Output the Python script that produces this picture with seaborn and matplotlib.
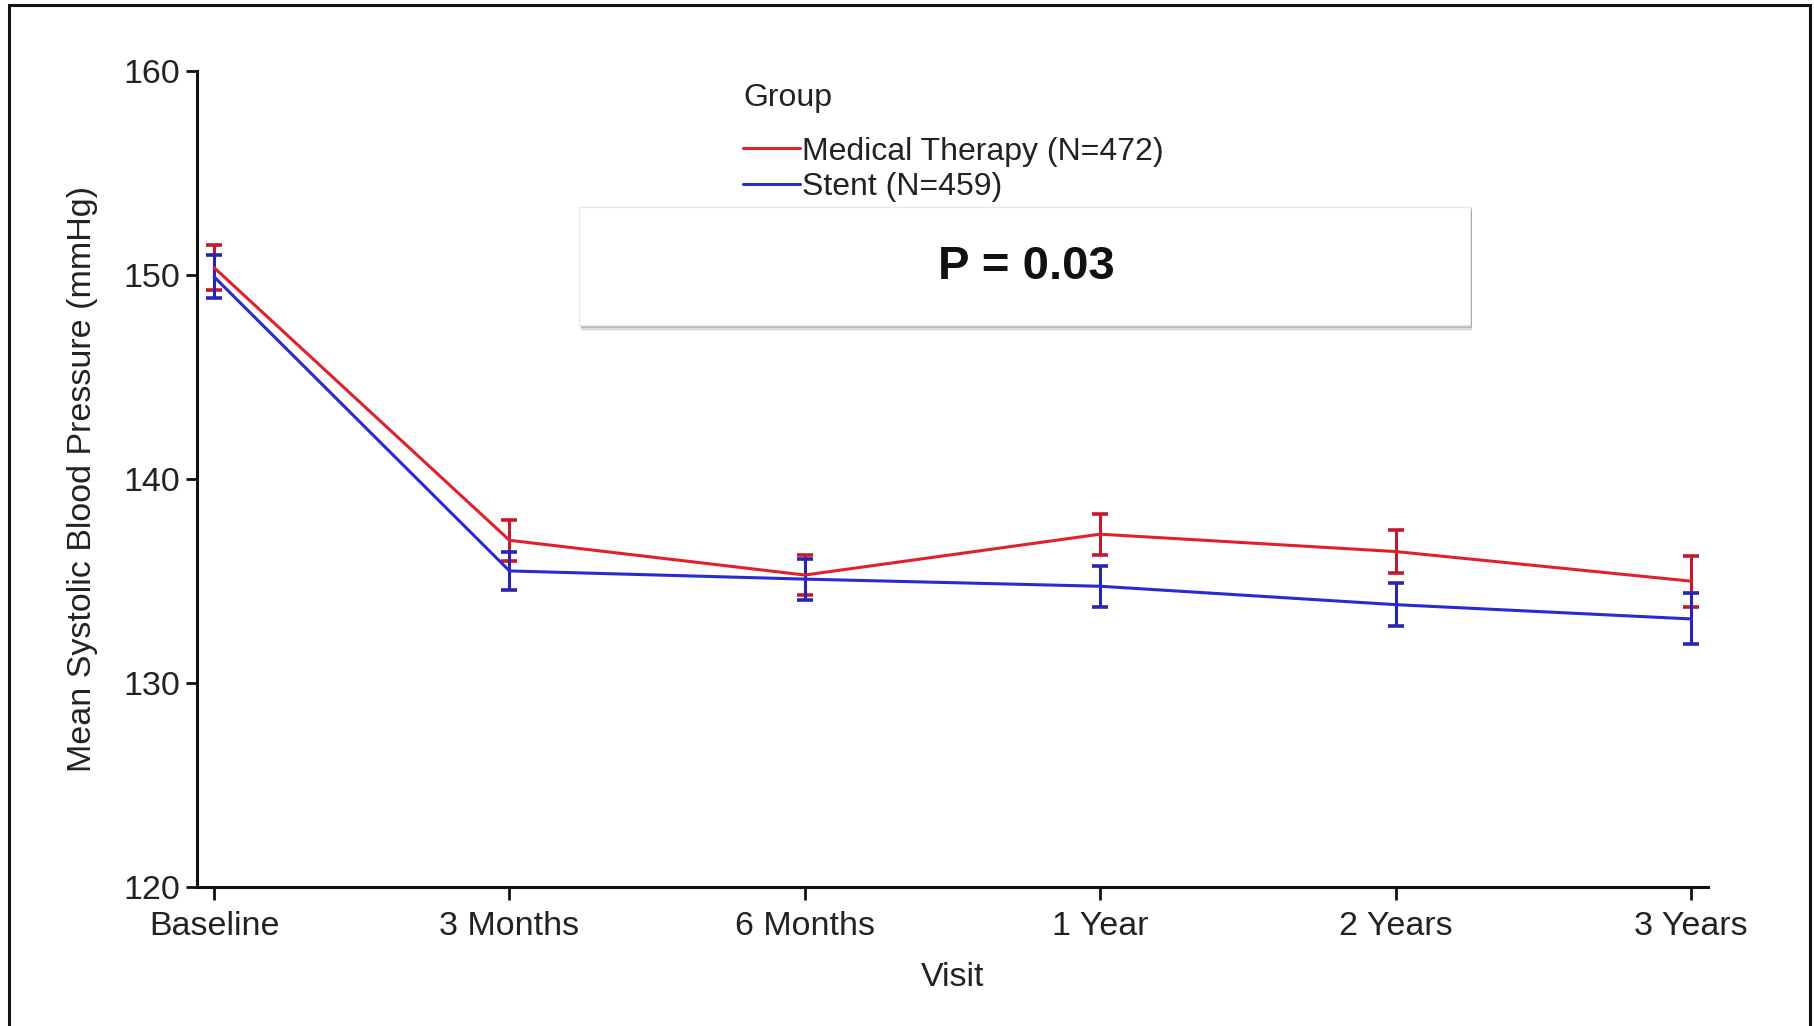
import matplotlib
matplotlib.use("Agg")
import matplotlib.pyplot as plt
import matplotlib.patches as mpatches
import seaborn as sns
import pandas as pd
import numpy as np

# Visits and mean systolic blood pressure with error bars per group
visits = ["Baseline", "3 Months", "6 Months", "1 Year", "2 Years", "3 Years"]
medical_mean = [150.35, 137.0, 135.3, 137.3, 136.45, 135.0]
medical_err = [1.1, 1.0, 1.0, 1.0, 1.05, 1.25]
stent_mean = [149.9, 135.5, 135.1, 134.75, 133.85, 133.15]
stent_err = [1.05, 0.95, 1.0, 1.0, 1.05, 1.25]
groups = ["Medical Therapy (N=472)", "Stent (N=459)"]
yticks = [120, 130, 140, 150, 160]
p_text = "P = 0.03"

line_colors = {groups[0]: "#e2202c", groups[1]: "#2a2ad2"}
err_colors = {groups[0]: "#c01a2c", groups[1]: "#2a24b4"}

sns.set_style("ticks")
plt.rcParams["font.family"] = ["Liberation Sans", "DejaVu Sans"]

df = pd.DataFrame({
    "Visit": list(range(len(visits))) * 2,
    "SBP": medical_mean + stent_mean,
    "Err": medical_err + stent_err,
    "Group": [groups[0]] * len(visits) + [groups[1]] * len(visits),
})

fig = plt.figure(figsize=(18.14, 10.26), dpi=100)
ax = fig.add_axes([0.1086, 0.135, 0.9416 - 0.1086, 0.9312 - 0.135])

# error bars first, lines on top
for g in groups:
    sub = df[df["Group"] == g]
    ax.errorbar(sub["Visit"], sub["SBP"], yerr=sub["Err"], fmt="none",
                ecolor=err_colors[g], elinewidth=2.2, capsize=6,
                capthick=2.6, zorder=2)

sns.lineplot(data=df, x="Visit", y="SBP", hue="Group", hue_order=groups,
             palette=line_colors, linewidth=2.2, ax=ax, legend=True,
             zorder=3)

ax.set_ylim(120, 160)
ax.set_xlim(-0.058, 5.058)
ax.set_yticks(yticks)
ax.set_xticks(range(len(visits)))
ax.set_xticklabels(visits)
ax.tick_params(axis="both", labelsize=24.5, width=2, colors="#111111",
               labelcolor="#222222")
ax.tick_params(axis="x", length=9, pad=8)
ax.tick_params(axis="y", length=8, pad=4)
for s in ["top", "right"]:
    ax.spines[s].set_visible(False)
for s in ["left", "bottom"]:
    ax.spines[s].set_linewidth(2.2)
    ax.spines[s].set_color("#111111")

ax.set_xlabel("Visit", fontsize=24.5, color="#222222", labelpad=14)
ax.set_ylabel("Mean Systolic Blood Pressure (mmHg)", fontsize=24.5,
              color="#222222", labelpad=18)

handles, labels = ax.get_legend_handles_labels()
leg = ax.legend(handles, labels, title="Group", loc="upper left",
                bbox_to_anchor=(727 / 1814, 1 - 67 / 1026),
                bbox_transform=fig.transFigure, frameon=False,
                fontsize=23, title_fontsize=23, handlelength=1.8,
                handletextpad=0.05, labelspacing=0.16, borderpad=0,
                alignment="left")
leg.set_zorder(10)
leg.get_title().set_color("#222222")
for t in leg.get_texts():
    t.set_color("#222222")
leg._legend_box.sep = 17

# P-value box with a soft shadow
W, H = 1814, 1026
x0, y0, x1, y1 = 579, 207, 1470, 325
for k, a in [(6, 0.08), (4.5, 0.15), (3, 0.25), (1.5, 0.35)]:
    fig.patches.append(mpatches.Rectangle(
        ((x0 + 2) / W, 1 - (y1 + k) / H), (x1 - x0) / W, (y1 - y0) / H,
        transform=fig.transFigure, facecolor="#606060", edgecolor="none",
        alpha=a, zorder=5))
fig.patches.append(mpatches.Rectangle(
    (x0 / W, 1 - y1 / H), (x1 - x0) / W, (y1 - y0) / H,
    transform=fig.transFigure, facecolor="white", edgecolor="#e8e8e8",
    linewidth=1.0, zorder=6))
fig.text(1026 / W, 1 - 267 / H, p_text, fontsize=34, fontweight="bold",
         ha="center", va="center", color="#111111", zorder=7)

# outer frame
fig.patches.append(mpatches.Rectangle(
    (9 / W, -0.02), (1810 - 9) / W, 1.02 - 5 / H,
    transform=fig.transFigure, facecolor="none", edgecolor="#111111",
    linewidth=2.2, zorder=8))

fig.savefig("out.png", dpi=100)
